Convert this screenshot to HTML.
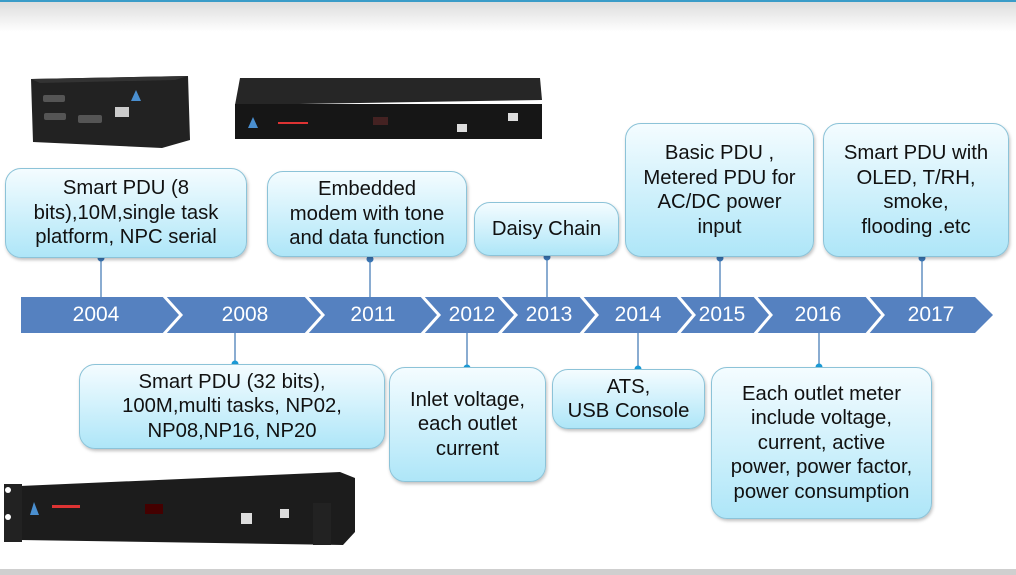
<!DOCTYPE html>
<html><head><meta charset="utf-8"><style>
body{margin:0;width:1016px;height:575px;position:relative;overflow:hidden;background:#fff;font-family:"Liberation Sans",Arial,sans-serif}
.b{position:absolute;box-sizing:border-box;border:1.5px solid #8cc3d8;border-radius:16px;background:linear-gradient(#f4fcff,#aee6f8);box-shadow:1px 2px 3px rgba(0,0,0,.25);display:flex;align-items:center;justify-content:center;text-align:center;font-size:20.3px;line-height:24.5px;color:#111}
.y{position:absolute;top:303px;color:#fff;font-size:21px;transform:translateX(-50%)}
</style></head><body>
<div style="position:absolute;left:0;top:0;width:1016px;height:2px;background:#3a9cc8"></div>
<div style="position:absolute;left:0;top:2px;width:1016px;height:30px;background:linear-gradient(#ddd,#fff)"></div>
<div style="position:absolute;left:0;top:569px;width:1016px;height:6px;background:#cfcfcf"></div>
<svg width="1016" height="575" style="position:absolute;left:0;top:0">
<polygon points="31,79 188,76 190,140 162,148 33,142" fill="#222"/>
<polygon points="31,79 188,76 175,80 40,83" fill="#333"/>
<rect x="43" y="95" width="22" height="7" rx="2" fill="#555"/><rect x="44" y="113" width="22" height="7" rx="2" fill="#555"/>
<rect x="78" y="115" width="24" height="8" rx="2" fill="#555"/><rect x="115" y="107" width="14" height="10" fill="#ccc"/>
<polygon points="136,90 131,101 141,101" fill="#4a8fd0"/>
<polygon points="240,78 540,78 542,100 235,105" fill="#262626"/>
<rect x="235" y="104" width="307" height="35" fill="#161616"/>
<polygon points="253,117 248,128 258,128" fill="#4a8fd0"/>
<g fill="#d33"><rect x="278" y="122" width="30" height="2"/></g>
<rect x="373" y="117" width="15" height="8" fill="#422"/>
<rect x="457" y="124" width="10" height="8" fill="#ddd"/><rect x="508" y="113" width="10" height="8" fill="#ddd"/>
<polygon points="20,486 340,472 355,478 355,532 343,545 20,540" fill="#1c1c1c"/>
<rect x="4" y="484" width="18" height="58" fill="#222"/><rect x="313" y="503" width="18" height="42" fill="#222"/>
<circle cx="8" cy="490" r="3" fill="#fff"/><circle cx="8" cy="517" r="3" fill="#fff"/>
<polygon points="34,502 30,515 39,515" fill="#4a8fd0"/>
<rect x="52" y="505" width="28" height="3" fill="#d33"/><rect x="145" y="504" width="18" height="10" fill="#400"/>
<rect x="241" y="513" width="11" height="11" fill="#ddd"/><rect x="280" y="509" width="9" height="9" fill="#ddd"/>
<polygon points="21,297 975,297 993,315 975,333 21,333" fill="#5581c0"/>
<g stroke="#fff" stroke-width="3" fill="none">
<polyline points="163,295 181,315 163,335"/><polyline points="305,295 323,315 305,335"/>
<polyline points="421,295 439,315 421,335"/><polyline points="498,295 516,315 498,335"/>
<polyline points="580,295 597,315 580,335"/><polyline points="677,295 694,315 677,335"/>
<polyline points="754,295 771,315 754,335"/><polyline points="866,295 883,315 866,335"/>
</g>
<g stroke="#4a7fb8" stroke-width="1.3">
<line x1="101" y1="258" x2="101" y2="297"/><line x1="370" y1="258" x2="370" y2="297"/>
<line x1="547" y1="256" x2="547" y2="297"/><line x1="720" y1="258" x2="720" y2="297"/>
<line x1="922" y1="258" x2="922" y2="297"/>
<line x1="235" y1="333" x2="235" y2="364"/><line x1="467" y1="333" x2="467" y2="367"/>
<line x1="638" y1="333" x2="638" y2="369"/><line x1="819" y1="333" x2="819" y2="367"/>
</g>
<g fill="#3b78b8"><circle cx="101" cy="258" r="3.5"/><circle cx="370" cy="259" r="3.5"/><circle cx="547" cy="257" r="3.5"/><circle cx="720" cy="258" r="3.5"/><circle cx="922" cy="258" r="3.5"/></g>
<g fill="#1a9ad6"><circle cx="235" cy="364" r="3.5"/><circle cx="467" cy="368" r="3.5"/><circle cx="638" cy="369" r="3.5"/><circle cx="819" cy="367" r="3.5"/></g>
</svg>
<div class="y" style="left:96px">2004</div><div class="y" style="left:245px">2008</div>
<div class="y" style="left:373px">2011</div><div class="y" style="left:472px">2012</div>
<div class="y" style="left:549px">2013</div><div class="y" style="left:638px">2014</div>
<div class="y" style="left:722px">2015</div><div class="y" style="left:818px">2016</div>
<div class="y" style="left:931px">2017</div>
<div class="b" style="left:5px;top:168px;width:242px;height:90px">Smart PDU (8<br>bits),10M,single task<br>platform, NPC serial</div>
<div class="b" style="left:267px;top:171px;width:200px;height:86px">Embedded<br>modem with tone<br>and data function</div>
<div class="b" style="left:474px;top:202px;width:145px;height:54px">Daisy Chain</div>
<div class="b" style="left:625px;top:123px;width:189px;height:134px">Basic PDU ,<br>Metered PDU for<br>AC/DC power<br>input</div>
<div class="b" style="left:823px;top:123px;width:186px;height:134px">Smart PDU with<br>OLED, T/RH,<br>smoke,<br>flooding .etc</div>
<div class="b" style="left:79px;top:364px;width:306px;height:85px">Smart PDU (32 bits),<br>100M,multi tasks, NP02,<br>NP08,NP16, NP20</div>
<div class="b" style="left:389px;top:367px;width:157px;height:115px">Inlet voltage,<br>each outlet<br>current</div>
<div class="b" style="left:552px;top:369px;width:153px;height:60px">ATS,<br>USB Console</div>
<div class="b" style="left:711px;top:367px;width:221px;height:152px">Each outlet meter<br>include voltage,<br>current, active<br>power, power factor,<br>power consumption</div>
</body></html>
